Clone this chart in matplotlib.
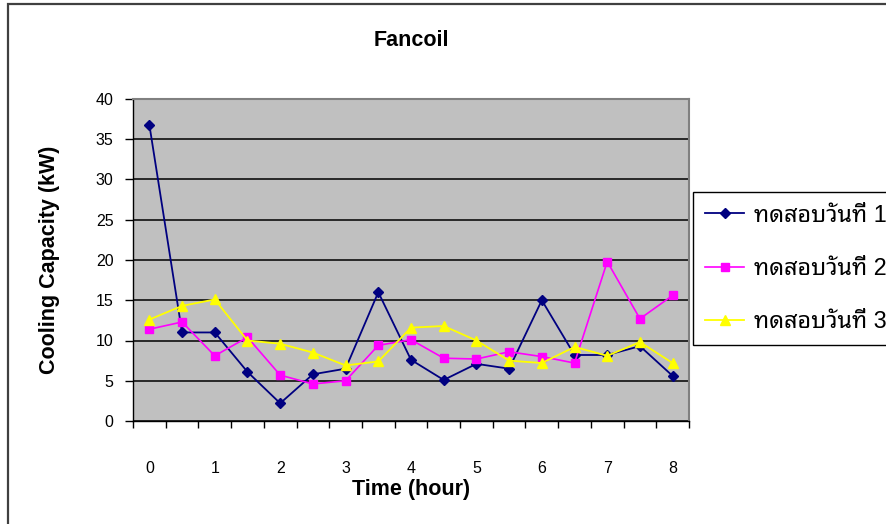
import matplotlib
matplotlib.use("Agg")
import matplotlib.pyplot as plt
from matplotlib.patches import Rectangle

# Cooling capacity of the fancoil, measured every half hour on three test days
time_h = [0, 0.5, 1, 1.5, 2, 2.5, 3, 3.5, 4, 4.5, 5, 5.5, 6, 6.5, 7, 7.5, 8]
day1 = [36.8, 11.0, 11.0, 6.1, 2.2, 5.8, 6.5, 16.0, 7.6, 5.1, 7.1, 6.5, 15.0, 8.2, 8.2, 9.3, 5.6]
day2 = [11.4, 12.3, 8.1, 10.4, 5.7, 4.6, 5.0, 9.4, 10.1, 7.8, 7.7, 8.6, 8.0, 7.2, 19.8, 12.7, 15.6]
day3 = [12.6, 14.3, 15.1, 10.0, 9.6, 8.5, 6.9, 7.4, 11.6, 11.8, 10.0, 7.5, 7.2, 9.2, 8.1, 9.8, 7.2]
day_labels = ["ทดสอบวันที่ 1", "ทดสอบวันที่ 2", "ทดสอบวันที่ 3"]
hour_ticks = [0, 1, 2, 3, 4, 5, 6, 7, 8]

plt.rcParams["font.family"] = ["Liberation Sans", "Noto Sans Thai Looped"]

W, H = 887, 524
fig = plt.figure(figsize=(W / 100, H / 100), dpi=100)
ax = fig.add_axes([133 / W, 1 - 421 / H, 556 / W, 322 / H])

# chart area frame (runs off the right and bottom edges)
fig.patches.append(Rectangle((8 / W, -0.1), 1.2, 1.1 - 4 / H, transform=fig.transFigure,
                             fill=False, ec="#404040", lw=1.6))

ax.set_facecolor("#C0C0C0")
ax.plot(time_h, day1, color="#000080", lw=1.3, marker="D", ms=5, label=day_labels[0])
ax.plot(time_h, day2, color="#FF00FF", lw=1.2, marker="s", ms=5.5, label=day_labels[1])
ax.plot(time_h, day3, color="#FFFF00", lw=1.3, marker="^", ms=7, label=day_labels[2])

ax.set_xlim(-0.25, 8.25)
ax.set_ylim(0, 40)
ax.set_yticks(range(0, 41, 5))
ax.set_xticks(hour_ticks)
ax.set_xticks([x - 0.25 for x in time_h] + [8.25], minor=True)
ax.tick_params(axis="x", which="major", length=0, pad=29, labelsize=11.5)
ax.tick_params(axis="x", which="minor", length=5, width=1, direction="out")
ax.tick_params(axis="y", length=6, width=1, direction="out", pad=8, labelsize=11.5)
ax.yaxis.grid(True, color="black", lw=1.1)
ax.set_axisbelow(True)

for side in ["top", "right"]:
    ax.spines[side].set_color("#808080")
    ax.spines[side].set_linewidth(1.5)
for side in ["left", "bottom"]:
    ax.spines[side].set_color("black")
    ax.spines[side].set_linewidth(1)

ax.set_title("Fancoil", fontsize=15.5, fontweight="bold", y=1.155, va="center")
ax.set_xlabel("Time (hour)", fontsize=15.5, fontweight="bold")
ax.xaxis.set_label_coords(0.5, -0.214)
ax.xaxis.label.set_va("center")
ax.set_ylabel("Cooling Capacity (kW)", fontsize=15.5, fontweight="bold")
ax.yaxis.set_label_coords(-0.15, 0.5)
ax.yaxis.label.set_va("center")

# legend box is wider than the space left of the frame edge, as in the original sheet
leg = ax.legend(loc="upper left", bbox_to_anchor=(693 / W, 1 - 192 / H),
                bbox_transform=fig.transFigure, borderaxespad=0, fontsize=16.8,
                frameon=True, fancybox=False, framealpha=1, edgecolor="black",
                borderpad=0.5, handlelength=1.7, handletextpad=0.4, labelspacing=1.3)
leg.get_frame().set_linewidth(1)

fig.savefig("out.png", dpi=100)
